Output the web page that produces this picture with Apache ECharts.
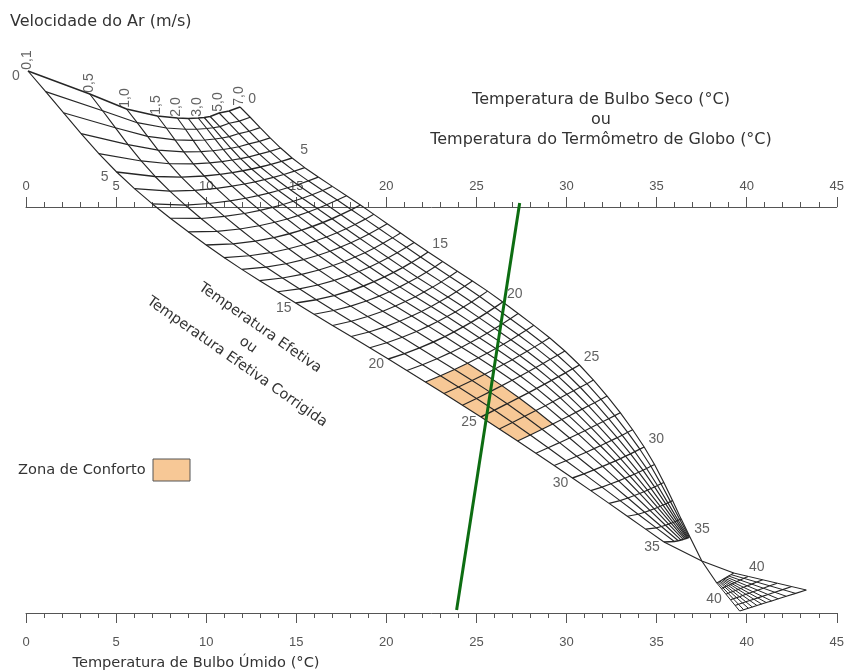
<!DOCTYPE html>
<html><head><meta charset="utf-8">
<script src="https://cdn.jsdelivr.net/npm/echarts@6/dist/echarts.min.js"></script>
<style>html,body{margin:0;padding:0;background:#fff}#c{width:847px;height:672px}</style>
</head><body><div id="c"></div>
<script>
// ---- axis (°C), shared by dry-bulb (top) and wet-bulb (bottom) scales
const axisMin = 0, axisMax = 45, axisStep = 5;
// ---- velocity lines (m/s)
const velocities = ['0,1','0,5','1,0','1,5','2,0','2,5','3,0','3,5','4,0','5,0','6,0','7,0'];
const velocityLabelShown = [1,1,1,1,1,0,1,0,0,1,0,1];
// ---- effective-temperature rows drawn in the main grid
const etRows = [0,1,2,3,4,5,6,7,8,9,10,11,12,13,14,15,16,17,18,19,20,21,22,23,24,25,26,27,28,29,30,31,32,33,34,35];
// ---- ET 0 row: node of every velocity line (x in °C, y = height above the wet-bulb axis)
const topRowNodes = [[0.11,542],[3.54,519],[5.58,504],[7.29,497],[8.40,495],[9.01,494.5],[9.56,495],[9.89,495.5],[10.22,496.5],[10.72,500],[11.27,502],[11.88,506]];
// ---- other key rows: ends, middle point, position of each velocity line
const keyET   = [0,5,10,15,20,25,30,35];
const rowLeft  = [[0.11,542],[5.03,441],[10.0,368],[14.97,310],[20.11,254],[25.25,196],[30.33,135],[35.41,71]];
const rowMid   = [[5.97,503],[9.89,437],[14.36,378],[18.73,327],[23.31,277],[27.96,221],[32.32,149],[36.13,72]];
const rowRight = [[11.92,506],[14.77,455],[18.56,408],[22.32,361],[26.46,311],[30.72,248],[34.31,166],[36.85,76]];
const colFrac = [
  null,
  [0,.22,.37,.50,.59,.66,.72,.77,.82,.88,.94,1],
  [0,.17,.31,.43,.53,.61,.68,.75,.81,.87,.94,1],
  [0,.15,.28,.40,.50,.58,.66,.73,.80,.87,.94,1],
  [0,.14,.27,.39,.49,.57,.65,.72,.79,.86,.93,1],
  [0,.14,.27,.39,.49,.57,.65,.72,.79,.86,.93,1],
  [0,.16,.30,.42,.52,.60,.67,.74,.81,.87,.94,1],
  [0,.40,.55,.66,.74,.80,.85,.89,.92,.95,.98,1]
];
// ---- crossing of the edge lines and the lower fan (ET 38..43)
const crossPoint = [37.51,52];
const fanRows = [38,39,40,41,42,43];
const fanV01 = [[39.28,40],[43.31,23]];   // 0,1 m/s line at ET 38 and 43
const fanV7  = [[38.34,30],[39.61,2]];    // 7,0 m/s line at ET 38 and 43
const fanFrac = [0,.16,.30,.42,.52,.60,.67,.74,.81,.87,.94,1];
// ---- labels
const leftLabels  = ['0','5','15','20','25','30','35'];
const rightLabels = ['0','5','15','20','25','30','35'];
// ---- comfort zone (ET range, velocity index range)
const comfortET = [22,27];
const comfortCols = [0,3];
// ---- reading line: wet bulb 23.9 °C -> dry bulb 27.4 °C
const greenLine = [[23.9,3],[27.4,410]];

// ---------- geometry helpers
function bez(L,M,R,t){const C=[2*M[0]-(L[0]+R[0])/2,2*M[1]-(L[1]+R[1])/2];const a=(1-t)*(1-t),b=2*t*(1-t),c=t*t;return [a*L[0]+b*C[0]+c*R[0],a*L[1]+b*C[1]+c*R[1]];}
const keyNodes = keyET.map((e,k)=>k===0?topRowNodes:colFrac[k].map(t=>bez(rowLeft[k],rowMid[k],rowRight[k],t)));
function kp(i,j){const n=keyNodes.length;if(i<0)return [2*keyNodes[0][j][0]-keyNodes[1][j][0],2*keyNodes[0][j][1]-keyNodes[1][j][1]];if(i>=n)return [2*keyNodes[n-1][j][0]-keyNodes[n-2][j][0],2*keyNodes[n-1][j][1]-keyNodes[n-2][j][1]];return keyNodes[i][j];}
function cr(p0,p1,p2,p3,u){const u2=u*u,u3=u2*u;return [0,1].map(i=>0.5*(2*p1[i]+(-p0[i]+p2[i])*u+(2*p0[i]-5*p1[i]+4*p2[i]-p3[i])*u2+(-p0[i]+3*p1[i]-3*p2[i]+p3[i])*u3));}
function node(e,j){const n=keyET.length;const k=Math.min(Math.floor(e/5),n-2);const u=(e-keyET[k])/5;return cr(kp(k-1,j),kp(k,j),kp(k+1,j),kp(k+2,j),u);}
function lerp(a,b,t){return [a[0]+(b[0]-a[0])*t,a[1]+(b[1]-a[1])*t];}
function fanNode(e,j){const t=(e-fanRows[0])/(fanRows[fanRows.length-1]-fanRows[0]);return lerp(lerp(fanV01[0],fanV01[1],t),lerp(fanV7[0],fanV7[1],t),fanFrac[j]);}

const lineColor = '#262626';
const series = [];
function addLine(data,color,width,z){series.push({type:'line',data,symbol:'none',showSymbol:false,clip:false,silent:true,animation:false,z:z||3,lineStyle:{color:color||lineColor,width:width||1.15}});}

// comfort zone polygon
const cz=[];
for(let e=comfortET[0];e<=comfortET[1];e++)cz.push(node(e,comfortCols[0]));
for(let j=comfortCols[0];j<=comfortCols[1];j++)cz.push(node(comfortET[1],j));
for(let e=comfortET[1];e>=comfortET[0];e--)cz.push(node(e,comfortCols[1]));
for(let j=comfortCols[1];j>=comfortCols[0];j--)cz.push(node(comfortET[0],j));
series.push({type:'custom',silent:true,animation:false,z:1,clip:false,data:[0],renderItem:(p,api)=>({type:'polygon',shape:{points:cz.map(q=>api.coord(q))},style:{fill:'#F7C896',stroke:null}})});

// rows and columns of the main grid (every fifth row a little heavier)
etRows.forEach(e=>addLine(velocities.map((v,j)=>node(e,j)),null,e%5===0?1.4:1.15));
velocities.forEach((v,j)=>addLine(etRows.map(e=>node(e,j))));
// edge lines crossing below ET 35
addLine([node(35,0),crossPoint,fanV01[0]]);
addLine([node(35,velocities.length-1),crossPoint,fanV7[0]]);
// lower fan
fanRows.forEach(e=>addLine(velocities.map((v,j)=>fanNode(e,j)),null,1.1));
velocities.forEach((v,j)=>addLine(fanRows.map(e=>fanNode(e,j)),null,1));
// green reading line
addLine(greenLine,'#0d6d12',3,6);

// labels
const lab=[];
const lblStyle={fontSize:14,color:'#3a3a3a',fontFamily:'Liberation Sans'};
velocities.forEach((v,j)=>{if(velocityLabelShown[j])lab.push({name:v,value:node(0,j),label:Object.assign({offset:[11,-1],rotate:90},lblStyle)});});
leftLabels.forEach(s=>lab.push({name:s,value:node(+s,0),label:Object.assign({offset:[-12,5]},lblStyle)}));
rightLabels.forEach(s=>lab.push({name:s,value:node(+s,velocities.length-1),label:Object.assign({offset:[12,-8]},lblStyle)}));
lab.push({name:'40',value:fanNode(40,velocities.length-1),label:Object.assign({offset:[-12,5]},lblStyle)});
lab.push({name:'40',value:fanNode(40,0),label:Object.assign({offset:[-6,-13]},lblStyle)});
series.push({type:'scatter',data:lab,symbolSize:0,clip:false,silent:true,animation:false,z:5,label:{show:true,formatter:p=>p.name,position:'inside'}});

const axCommon={type:'value',min:axisMin,max:axisMax,interval:axisStep,splitLine:{show:false},
  axisLine:{onZero:false,lineStyle:{color:'#555',width:1}},axisTick:{length:10,lineStyle:{color:'#555'}},
  minorTick:{show:true,splitNumber:5,length:5,lineStyle:{color:'#555'}},minorSplitLine:{show:false}};
const chart=echarts.init(document.getElementById('c'),null,{renderer:'canvas'});
const txt=(s,x,y,size,extra)=>Object.assign({type:'text',x,y,silent:true,style:{text:s,font:size+'px "DejaVu Sans"',fill:'#333',textAlign:'center',textVerticalAlign:'middle'}},extra||{});
const rot=-35*Math.PI/180;
chart.setOption({
  animation:false,
  grid:{left:26,right:5,top:207,bottom:59},
  xAxis:[
    Object.assign({position:'top',axisLabel:{margin:14,color:'#555',fontSize:13,fontFamily:'Liberation Sans'}},axCommon),
    Object.assign({position:'bottom',axisLabel:{margin:23,color:'#555',fontSize:13,fontFamily:'Liberation Sans'}},axCommon)
  ],
  yAxis:{type:'value',min:0,max:406,show:false},
  series,
  graphic:[
    {type:'text',x:10,y:22,silent:true,style:{text:'Velocidade do Ar (m/s)',font:'16px "DejaVu Sans"',fill:'#333',textAlign:'left',textVerticalAlign:'middle'}},
    txt('Temperatura de Bulbo Seco (°C)',601,100,16),
    txt('ou',601,120,16),
    txt('Temperatura do Termômetro de Globo (°C)',601,140,16),
    txt('Temperatura de Bulbo Úmido (°C)',196,663,14.6),
    txt('Temperatura Efetiva',260,328,14.4,{rotation:rot}),
    txt('ou',248,345,14.4,{rotation:rot}),
    txt('Temperatura Efetiva Corrigida',237,362,14.4,{rotation:rot}),
    {type:'text',x:18,y:470,silent:true,style:{text:'Zona de Conforto',font:'14.6px "DejaVu Sans"',fill:'#333',textAlign:'left',textVerticalAlign:'middle'}},
    {type:'rect',shape:{x:153,y:459,width:37,height:22},style:{fill:'#F7C896',stroke:'#555',lineWidth:1},silent:true}
  ]
});
</script></body></html>
